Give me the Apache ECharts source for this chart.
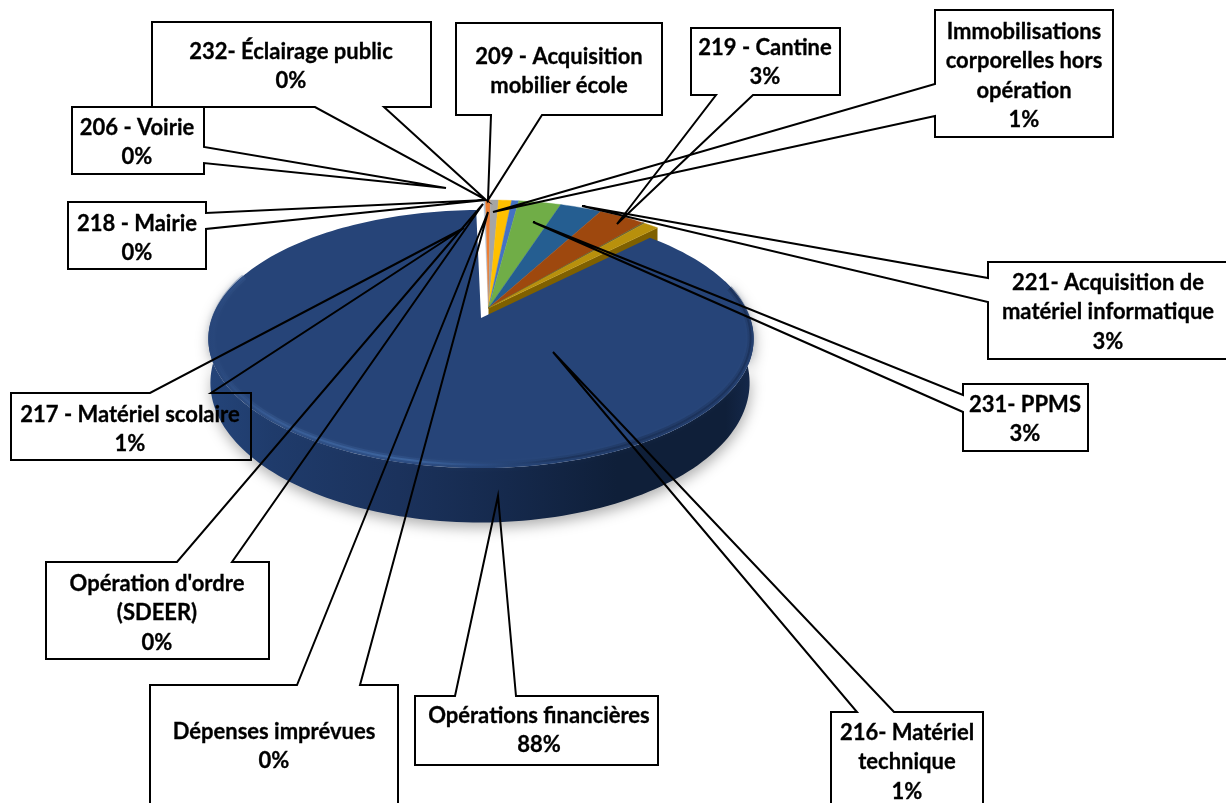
<!DOCTYPE html>
<html><head><meta charset="utf-8">
<style>html,body{margin:0;padding:0;background:#fff}#c{width:1226px;height:803px}</style>
<script src="https://cdn.jsdelivr.net/npm/echarts@6/dist/echarts.min.js"></script>
</head><body><div id="c"></div>
<script>
// ---- data, clockwise from the top of the pie
const categories = ["206 - Voirie","218 - Mairie","Immobilisations\ncorporelles hors\nopération","217 - Matériel scolaire","209 - Acquisition\nmobilier école","219 - Cantine","231- PPMS","221- Acquisition de\nmatériel informatique","232- Éclairage public","Dépenses imprévues","Opération d'ordre\n(SDEER)","216- Matériel\ntechnique","Opérations financières"];
const values = [0.13,0.33,0.57,0.9,0.49,2.93,2.89,3.28,0.02,0.02,0.08,1.06,87.3];
const percentLabels = ["0%","0%","1%","1%","","3%","3%","3%","0%","0%","0%","1%","88%"];
const sliceColors = ["#B4C7DC","#ED7D31","#A5A5A5","#FFC000","#4472C4","#70AD47","#255E91","#9E480E","#997300","#636363","#5E5A2A","#B8900C","#264478"];

// ---- layout of the callouts (same order as categories)
const calloutBoxes = [[72,107,204,174],[68,202,206,269],[935,10,1113,137],[11,393,251,460],[456,23,662,115],[691,28,840,95],[963,384,1088,451],[988,262,1240,359],[152,22,431,107],[150,685,398,820],[46,562,269,659],[831,712,983,820],[415,696,658,765]];
const calloutSide = ["right","right","left","top","bottom","bottom","left","left","bottom","top","top","top","top"];
const calloutWedge = [[147,163],[213,229],[84,116],[150,211],[491,542],[716,753],[395,412],[278,302],[315,384],[297,360],[177,232],[857,894],[455,516]];
const calloutTip = [[446,188],[486,200],[493,212],[464,228],[488,200],[617,224],[533,222],[582,206],[486,200],[488,212],[483,204],[553,352],[498,496]];
const labelCenterX = [137,137,1024,130,559,765,1025,1108,291,274,157,907,539];
const labelFirstY = [128,224,32,415,57,48,405,283,52,732,584,733,716];
const lineStep = 29.3;

// ---- pie geometry
const K = 0.163, RX = 269, RY = 125.6, START = -1.2;
const smallDisc = {ax:488.5, ay:308, rx:RX, ry:RY};
const bigDisc   = {ax:481, ay:318, rx:RX, ry:RY};
const rimDisc   = {ax:481, ay:317, rx:RX-3, ry:RY-2};
const bigBase   = {ax:480, ay:360, rx:266, ry:136};
const total = values.reduce((a,b)=>a+b,0);
const bigIndex = values.indexOf(Math.max.apply(null,values));
const bounds = []; values.reduce((acc,v,i)=>{bounds[i]=[acc,acc+v/total*360];return acc+v/total*360;},START);
function pt(d,deg){const t=deg*Math.PI/180,u=Math.sin(t),v=-Math.cos(t),w=1-K*v;return [d.ax+d.rx*u/w,d.ay+d.ry*v/w];}
function arc(d,a,b){const p=[],n=Math.max(2,Math.ceil(Math.abs(b-a)/1.5));for(let i=0;i<=n;i++)p.push(pt(d,a+(b-a)*i/n));return p;}
function lin(stops){return {type:'linear',x:207,y:0,x2:753,y2:0,global:true,colorStops:stops.map(s=>({offset:s[0],color:s[1]}))};}

function renderSlice(params){
  const i=params.dataIndex,[a,b]=bounds[i],ch=[];
  if(i===bigIndex){
    const wa=72,wb=292;
    ch.push({type:'polygon',shape:{points:arc(bigDisc,wa,wb).concat(arc(bigBase,wa,wb).reverse())},
      style:{fill:lin([[0,'#244479'],[.12,'#1f3b6b'],[.35,'#1b325c'],[.55,'#15294c'],[.75,'#0f1f39'],[.95,'#0f1f39'],[1,'#15294c']]),shadowBlur:14,shadowColor:'rgba(0,0,0,.32)',shadowOffsetY:5,shadowOffsetX:1}});
    ch.push({type:'polygon',shape:{points:[[bigDisc.ax,bigDisc.ay]].concat(arc(bigDisc,a,b))},style:{fill:sliceColors[i]}});
    ch.push({type:'polyline',shape:{points:arc(rimDisc,76,290)},style:{fill:null,lineWidth:6,opacity:.35,stroke:lin([[0,'#264478'],[.12,'#44699f'],[.35,'#3f659f'],[.55,'#24426f'],[.8,'#12233f'],[1,'#1a3058']])}});
    ch.push({type:'polyline',shape:{points:arc(rimDisc,76,290)},style:{fill:null,lineWidth:2,opacity:.8,stroke:lin([[0,'#264478'],[.12,'#3a5f99'],[.37,'#4069a3'],[.5,'#2c4e86'],[.65,'#1b3158'],[1,'#1a3058']]),shadowBlur:6,shadowColor:'rgba(50,80,130,.6)'}});
  } else {
    const pts=arc(smallDisc,a,b),apex=[smallDisc.ax,smallDisc.ay];
    if(i===bigIndex-1){
      const e=pts[pts.length-1];
      ch.push({type:'polygon',shape:{points:[apex,e,[e[0],e[1]+15],[e[0]-30,e[1]+32],[apex[0],apex[1]+12]]},style:{fill:'#7F6000'}});
    }
    ch.push({type:'polygon',shape:{points:[apex].concat(pts)},style:{fill:sliceColors[i],stroke:sliceColors[i],lineWidth:.4}});
  }
  return {type:'group',children:ch};
}

function outline(i){
  const [x0,y0,x1,y1]=calloutBoxes[i],[w0,w1]=calloutWedge[i],t=calloutTip[i];
  switch(calloutSide[i]){
    case 'top':   return [[x0,y0],[w0,y0],t,[w1,y0],[x1,y0],[x1,y1],[x0,y1]];
    case 'bottom':return [[x0,y0],[x1,y0],[x1,y1],[w1,y1],t,[w0,y1],[x0,y1]];
    case 'left':  return [[x0,y0],[x1,y0],[x1,y1],[x0,y1],[x0,w1],t,[x0,w0]];
    default:      return [[x0,y0],[x1,y0],[x1,w0],t,[x1,w1],[x1,y1],[x0,y1]];
  }
}
function renderCallout(params){
  const i=params.dataIndex,ch=[{type:'polygon',shape:{points:outline(i)},style:{fill:null,stroke:'#000',lineWidth:2,lineJoin:'miter'}}];
  const lines=categories[i].split('\n');if(percentLabels[i])lines.push(percentLabels[i]);
  lines.forEach((s,k)=>ch.push({type:'text',style:{text:s,x:labelCenterX[i],y:labelFirstY[i]+k*lineStep,align:'center',verticalAlign:'middle',fill:'#000',stroke:'#000',lineWidth:.3,font:'bold 22px Lato'}}));
  return {type:'group',children:ch};
}

const chart=echarts.init(document.getElementById('c'),null,{renderer:'canvas',width:1226,height:803});
chart.setOption({
  animation:false,backgroundColor:'#fff',
  series:[
    {type:'custom',coordinateSystem:'none',renderItem:renderSlice,clip:false,data:values.map((v,i)=>({name:categories[i],value:v})),silent:true,z:1},
    {type:'custom',coordinateSystem:'none',renderItem:renderCallout,clip:false,data:values.map((v,i)=>({name:categories[i],value:v})),silent:true,z:2}
  ]
});
</script></body></html>
